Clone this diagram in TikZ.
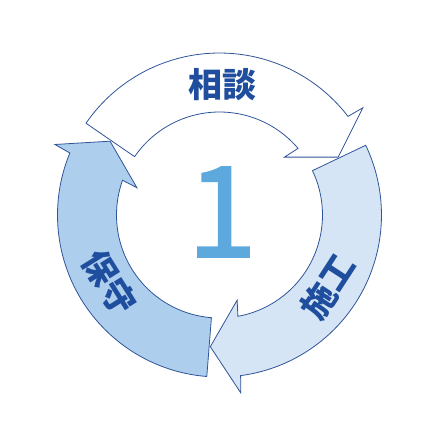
\documentclass[tikz,border=0pt]{standalone}
\usepackage{fontspec}
\newfontfamily\cjk{Noto Sans CJK JP}
\newfontfamily\numfont[FakeBold=1.6]{Noto Sans CJK JP}
\definecolor{edgeblue}{HTML}{2F5597}
\definecolor{textblue}{HTML}{1F4E9E}
\definecolor{numblue}{HTML}{5DA9DD}
\definecolor{paleblue}{HTML}{D6E5F5}
\definecolor{midblue}{HTML}{AECEEE}
\newcommand{\cyclearrow}[2]{%
  \begin{scope}[rotate=#1]
    \draw[arrowband, fill=#2] (145.5:162) arc[start angle=145.5, end angle=37.5, radius=162]
      -- (36.8:179) -- (26:132) -- (41.7:87) -- (40.3:103)
      arc[start angle=40.3, end angle=145.5, radius=103] -- cycle;
  \end{scope}}

\begin{document}
\begin{tikzpicture}[x=1pt, y=1pt,
    arrowband/.style={draw=edgeblue, line width=0.8pt, line join=miter},
    steplabel/.style={text=textblue, font=\cjk\bfseries\fontsize{34}{34}\selectfont, inner sep=0pt}]
  \useasboundingbox (-219.5,-225) rectangle (220.5,215);
  \cyclearrow{0}{white}
  \cyclearrow{-120}{paleblue}
  \cyclearrow{-240}{midblue}
  \node[steplabel] (consult) at (88.5:130) {相談};
  \node[steplabel, rotate=57] (build) at (-33.6:130) {施工};
  \node[steplabel, rotate=-58] (maintain) at (211.8:129) {保守};
  \node[text=numblue, font=\numfont\fontsize{126}{126}\selectfont, inner sep=0pt] (num) at (2.5,3) {1};
\end{tikzpicture}
\end{document}
